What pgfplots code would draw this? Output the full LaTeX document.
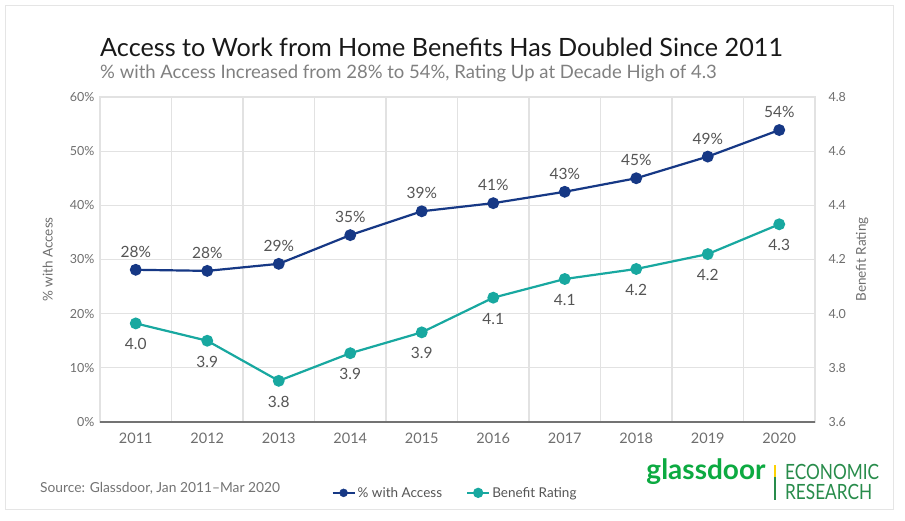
\documentclass[border=0pt]{standalone}
\usepackage{pgfplots}
\pgfplotsset{compat=1.18}
\usepackage{fontspec}
\setmainfont{Lato}
\definecolor{cblue}{RGB}{22,56,133}
\definecolor{cteal}{RGB}{24,168,160}
\definecolor{tickgrey}{RGB}{110,110,110}
\definecolor{lblgrey}{RGB}{85,85,85}
\definecolor{gridgrey}{RGB}{226,226,226}
\definecolor{gdgreen}{RGB}{12,170,65}
\definecolor{ergreen}{RGB}{40,140,75}
\begin{document}
\begin{tikzpicture}[x=1pt,y=1pt]
\useasboundingbox (0,0) rectangle (905,521);
\fill[white] (0,0) rectangle (905,521);
\draw[gray!20,line width=1pt] (5,11) rectangle (893,515);
\node[anchor=west,inner sep=0,text=black!90] at (100,474) {\fontsize{25.2}{30}\selectfont Access to Work from Home Benefits Has Doubled Since 2011};
\node[anchor=west,inner sep=0,text=black!50] at (100,448) {\fontsize{18.5}{22}\selectfont \% with Access Increased from 28\% to 54\%, Rating Up at Decade High of 4.3};
\node[anchor=west,inner sep=0,text=black!55] at (40,33) {\fontsize{13.8}{16}\selectfont Source: Glassdoor, Jan 2011--Mar 2020};
\node[anchor=center,inner sep=0,text=gdgreen] at (706,49) {\fontsize{28}{32}\selectfont\bfseries glassdoor};
\draw[ergreen,line width=1.2pt] (775,21) -- (775,44);
\draw[yellow!70!orange,line width=1.2pt] (775,44) -- (775,56);
\node[anchor=west,inner sep=0,text=ergreen,xscale=0.82] at (785,49) {\fontsize{21}{24}\selectfont ECONOMIC};
\node[anchor=west,inner sep=0,text=ergreen,xscale=0.82] at (785,29) {\fontsize{21}{24}\selectfont RESEARCH};

\begin{axis}[
  at={(100pt,99pt)}, anchor=south west,
  scale only axis, width=715pt, height=325pt,
  xmin=2010.5, xmax=2020.5, ymin=0, ymax=60,
  xtick={2011,2012,2013,2014,2015,2016,2017,2018,2019,2020},
  minor xtick={2011.5,2012.5,2013.5,2014.5,2015.5,2016.5,2017.5,2018.5,2019.5},
  ytick={0,10,20,30,40,50,60},
  yticklabel={\pgfmathprintnumber{\tick}\%},
  xticklabel style={/pgf/number format/1000 sep={}},
  /pgf/number format/assume math mode=true,
  yticklabel style={font=\fontsize{12.5}{14}\selectfont, text=tickgrey, xshift=-2pt},
  xticklabel style={font=\fontsize{14.5}{16}\selectfont, text=tickgrey, yshift=-7pt},
  major tick length=0pt, minor tick length=0pt,
  xmajorgrids=false, xminorgrids=true, ymajorgrids=true,
  grid style={gridgrey, line width=1.3pt},
  minor grid style={gridgrey, line width=1.3pt},
  axis line style={gridgrey, line width=1.3pt},
  ylabel={\% with Access},
  ylabel style={at={(axis description cs:-0.073,0.5)}, anchor=center, font=\fontsize{13.5}{15}\selectfont, text=tickgrey},
  extra y ticks={0}, extra y tick labels={},
  extra y tick style={ymajorgrids=true, major grid style={black!55, line width=1.8pt}},
  clip=false,
]
\addplot[cblue, line width=2.2pt, mark=*, mark size=4.8pt,
  point meta=explicit symbolic,
  nodes near coords,
  every node near coord/.append style={anchor=center, yshift=18pt, font=\fontsize{15.5}{17}\selectfont, text=lblgrey}]
coordinates {
(2011,28.1) [28\%]
(2012,27.9) [28\%]
(2013,29.2) [29\%]
(2014,34.5) [35\%]
(2015,38.9) [39\%]
(2016,40.4) [41\%]
(2017,42.5) [43\%]
(2018,45.0) [45\%]
(2019,49.0) [49\%]
(2020,53.9) [54\%]
};
\end{axis}

\begin{axis}[
  at={(100pt,99pt)}, anchor=south west,
  scale only axis, width=715pt, height=325pt,
  xmin=2010.5, xmax=2020.5, ymin=3.6, ymax=4.8,
  axis x line=none,
  axis y line*=right,
  y axis line style={draw=none},
  ytick={3.6,3.8,4.0,4.2,4.4,4.6,4.8},
  yticklabel style={/pgf/number format/fixed, /pgf/number format/fixed zerofill, /pgf/number format/precision=1, xshift=10pt},
  /pgf/number format/assume math mode=true,
  ticklabel style={font=\fontsize{12.5}{14}\selectfont, text=tickgrey},
  major tick length=0pt,
  ylabel={Benefit Rating},
  ylabel style={at={(axis description cs:1.066,0.5)}, anchor=center, font=\fontsize{13.5}{15}\selectfont, text=tickgrey},
  legend style={at={(0.4965,-0.218)}, anchor=center, draw=none, fill=none,
    legend columns=2, font=\fontsize{13.5}{15}\selectfont, text=lblgrey,
    /tikz/every even column/.append style={column sep=22pt}},
  legend image code/.code={\draw[#1, line width=2.2pt] (0pt,0pt) -- (22pt,0pt); \fill[#1] (11pt,0pt) circle (4pt);},
  clip=false,
]
\addlegendimage{cblue}
\addlegendentry{\% with Access}
\addplot[cteal, line width=2.2pt, mark=*, mark size=4.8pt,
  point meta=explicit symbolic,
  nodes near coords,
  every node near coord/.append style={anchor=center, yshift=-21pt, font=\fontsize{15.5}{17}\selectfont, text=lblgrey}]
coordinates {
(2011,3.964) [4.0]
(2012,3.900) [3.9]
(2013,3.752) [3.8]
(2014,3.854) [3.9]
(2015,3.931) [3.9]
(2016,4.059) [4.1]
(2017,4.128) [4.1]
(2018,4.165) [4.2]
(2019,4.220) [4.2]
(2020,4.330) [4.3]
};
\addlegendentry{Benefit Rating}
\end{axis}
\end{tikzpicture}
\end{document}
